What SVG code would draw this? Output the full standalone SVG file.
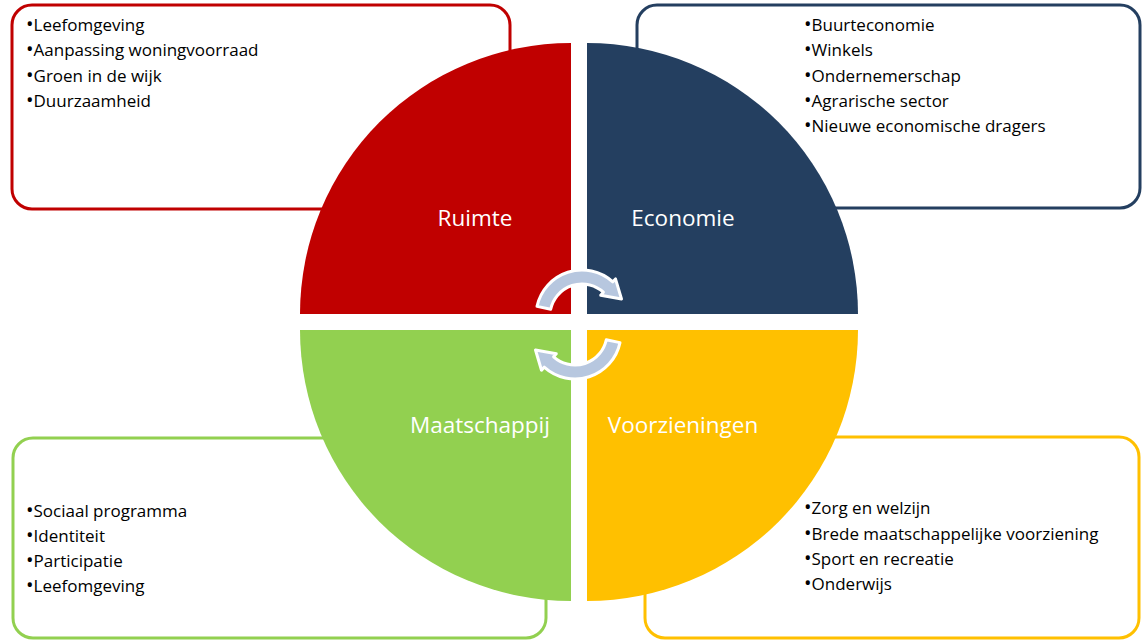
<svg xmlns="http://www.w3.org/2000/svg" width="1143" height="641" viewBox="0 0 1143 641">
<style>
.box{fill:#fff;stroke-width:3}
.item{font-family:"Open Sans","Liberation Sans",sans-serif;font-size:17px;fill:#000}
.b{font-size:20px}
.lbl{font-family:"Open Sans","Liberation Sans",sans-serif;font-size:22.5px;fill:#fff;text-anchor:middle}
.arr{fill:#B7C7DF;stroke:#fff;stroke-width:3;stroke-linejoin:round}
</style>
<rect width="1143" height="641" fill="#fff"/>
<g id="box-ruimte"><rect class="box" x="12" y="5" width="498" height="204" rx="20" stroke="#C00000"/></g>
<g id="box-economie"><rect class="box" x="637" y="5" width="503" height="203" rx="20" stroke="#243F60"/></g>
<g id="box-maatschappij"><rect class="box" x="13" y="438" width="533" height="200" rx="20" stroke="#92D050"/></g>
<g id="box-voorzieningen"><rect class="box" x="645" y="437" width="494" height="201" rx="20" stroke="#FFC000"/></g>
<g id="ruimte"><path d="M571,314 L300,314 A271,271 0 0 1 571,43 Z" fill="#C00000"/><text class="lbl" x="475" y="226">Ruimte</text></g>
<g id="economie"><path d="M587,314 L587,43 A271,271 0 0 1 858,314 Z" fill="#243F60"/><text class="lbl" x="683" y="226">Economie</text></g>
<g id="maatschappij"><path d="M571,330 L571,601 A271,271 0 0 1 300,330 Z" fill="#92D050"/><text class="lbl" x="480" y="433">Maatschappij</text></g>
<g id="voorzieningen"><path d="M587,330 L858,330 A271,271 0 0 1 587,601 Z" fill="#FFC000"/><text class="lbl" x="683" y="433">Voorzieningen</text></g>
<g id="connectors">
<path class="arr" d="M537,306.4 A46,46 0 0 1 612.8,281.8 L615.5,278.9 L621.5,299 L600.7,295.2 L603.4,292.2 A32,32 0 0 0 550.7,309.3 Z"/>
<path class="arr" d="M620,342.6 A46,46 0 0 1 544.2,367.2 L541.5,370.2 L535.5,350 L556.3,353.8 L553.6,356.8 A32,32 0 0 0 606.3,339.7 Z"/>
</g>
<g id="list-ruimte" class="item">
<text x="26" y="31"><tspan class="b">•</tspan>Leefomgeving</text>
<text x="26" y="56"><tspan class="b">•</tspan>Aanpassing woningvoorraad</text>
<text x="26" y="82"><tspan class="b">•</tspan>Groen in de wijk</text>
<text x="26" y="107"><tspan class="b">•</tspan>Duurzaamheid</text>
</g>
<g id="list-economie" class="item">
<text x="804" y="31"><tspan class="b">•</tspan>Buurteconomie</text>
<text x="804" y="56"><tspan class="b">•</tspan>Winkels</text>
<text x="804" y="82"><tspan class="b">•</tspan>Ondernemerschap</text>
<text x="804" y="107"><tspan class="b">•</tspan>Agrarische sector</text>
<text x="804" y="132"><tspan class="b">•</tspan>Nieuwe economische dragers</text>
</g>
<g id="list-maatschappij" class="item">
<text x="26" y="517"><tspan class="b">•</tspan>Sociaal programma</text>
<text x="26" y="542"><tspan class="b">•</tspan>Identiteit</text>
<text x="26" y="567"><tspan class="b">•</tspan>Participatie</text>
<text x="26" y="592"><tspan class="b">•</tspan>Leefomgeving</text>
</g>
<g id="list-voorzieningen" class="item">
<text x="804" y="514"><tspan class="b">•</tspan>Zorg en welzijn</text>
<text x="804" y="540"><tspan class="b">•</tspan>Brede maatschappelijke voorziening</text>
<text x="804" y="565"><tspan class="b">•</tspan>Sport en recreatie</text>
<text x="804" y="590"><tspan class="b">•</tspan>Onderwijs</text>
</g>
</svg>
